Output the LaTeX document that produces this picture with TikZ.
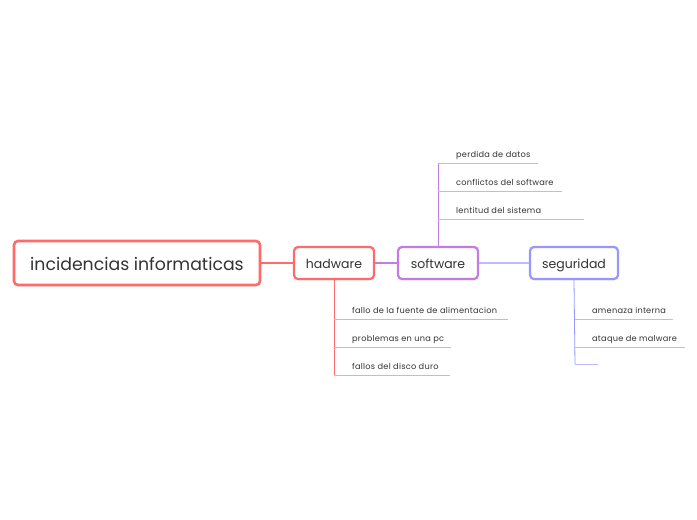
\documentclass[tikz,border=0pt]{standalone}
\usepackage{fontspec}
\setmainfont{Poppins}
\newfontfamily\leaffont[LetterSpace=3]{Poppins}
\usetikzlibrary{shadows}
\definecolor{cred}{HTML}{FF6B6B}
\definecolor{credl}{HTML}{FFA5A5}
\definecolor{cpur}{HTML}{C47CE3}
\definecolor{cpurl}{HTML}{DDA9F0}
\definecolor{cblu}{HTML}{9896FF}
\definecolor{cblul}{HTML}{BDBBFF}
\definecolor{ctext}{HTML}{333333}
\tikzset{
  topic/.style={draw=#1, line width=2.2pt, rounded corners=4pt, fill=white, text=ctext,
    inner sep=0pt, anchor=center, text height=10pt, text depth=0pt,
    drop shadow={shadow xshift=0pt, shadow yshift=-1.5pt, opacity=0.12}},
  leaf/.style={anchor=base west, inner sep=0pt, text=ctext, font=\leaffont\fontsize{8.2}{9}\selectfont},
  conn/.style={line width=1.2pt, draw=#1},
  sub/.style={line width=0.8pt, draw=#1},
}
\begin{document}
\begin{tikzpicture}[x=1pt,y=-1pt]
\useasboundingbox (0,0) rectangle (697,520);
\fill[white] (0,0) rectangle (697,520);
% main topics
\node[topic=cred, line width=2.6pt, minimum width=246pt, minimum height=44pt, text height=14pt,
  font=\fontsize{17.3}{19}\selectfont] (root) at (137,263) {incidencias informaticas};
\node[topic=cred, minimum width=80pt, minimum height=32pt,
  font=\fontsize{12.5}{14}\selectfont] (hw) at (334,263) {hadware};
\node[topic=cpur, minimum width=80pt, minimum height=32pt,
  font=\fontsize{12.5}{14}\selectfont] (sw) at (438,263) {software};
\node[topic=cblu, minimum width=88pt, minimum height=32pt,
  font=\fontsize{12.5}{14}\selectfont] (seg) at (574,263) {seguridad};
% connectors
\draw[conn=cred] (root.east) -- (hw.west);
\draw[conn=cpur] (hw.east) -- (sw.west);
\draw[conn=cblul] (sw.east) -- (seg.west);
% hadware leaves
\coordinate (h1) at (508,319);
\coordinate (h2) at (451,347);
\coordinate (h3) at (450,375);
\node[leaf] (th1) at (352,313) {fallo de la fuente de alimentacion};
\node[leaf] (th2) at (352,341) {problemas en una pc};
\node[leaf] (th3) at (352,369) {fallos del disco duro};
\draw[sub=cred] (hw.south) -- (334,375);
\draw[sub=credl] (334,319) -- (h1);
\draw[sub=credl] (334,347) -- (h2);
\draw[sub=credl] (334,375) -- (h3);
% software leaves
\coordinate (s1) at (538,163);
\coordinate (s2) at (562,191);
\coordinate (s3) at (584,219);
\node[leaf] (ts1) at (456,157) {perdida de datos};
\node[leaf] (ts2) at (456,185) {conflictos del software};
\node[leaf] (ts3) at (456,213) {lentitud del sistema};
\draw[sub=cpur] (sw.north) -- (438,163);
\draw[sub=cpurl] (438,163) -- (s1);
\draw[sub=cpurl] (438,191) -- (s2);
\draw[sub=cpurl] (438,219) -- (s3);
% seguridad leaves
\coordinate (g1) at (673,319);
\coordinate (g2) at (685,347);
\coordinate (g3) at (598,364);
\node[leaf] (tg1) at (592,313) {amenaza interna};
\node[leaf] (tg2) at (592,341) {ataque de malware};
\draw[sub=cblu] (seg.south) -- (575,364);
\draw[sub=cblul] (575,319) -- (g1);
\draw[sub=cblul] (575,347) -- (g2);
\draw[sub=cblul] (575,364) -- (g3);
\end{tikzpicture}
\end{document}
